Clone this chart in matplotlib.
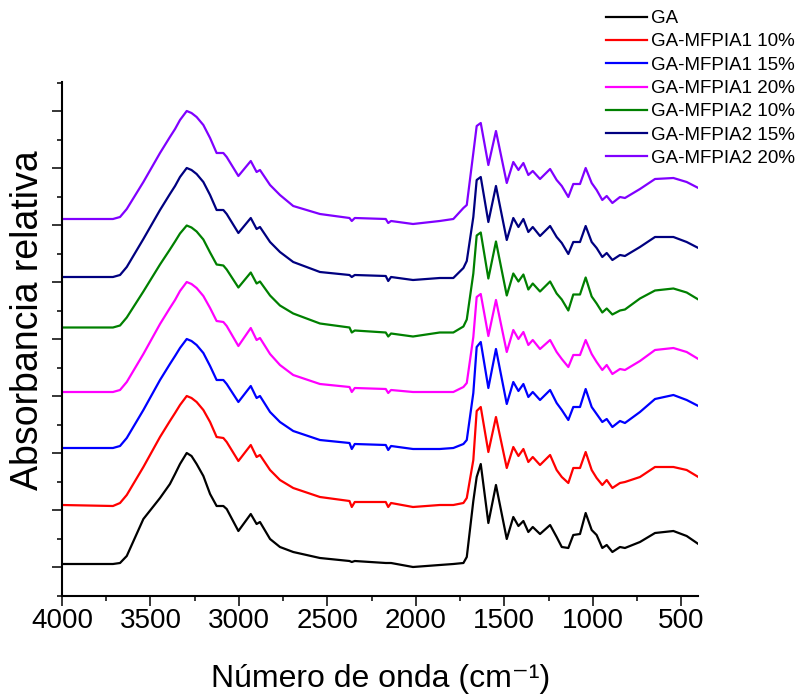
import numpy as np
import matplotlib
matplotlib.use("Agg")
import matplotlib.pyplot as plt
from matplotlib.ticker import MultipleLocator

plt.rcParams['font.family'] = ['Liberation Sans', 'DejaVu Sans']

# numero de onda (cm-1)
wavenumber = [4000, 3712, 3672, 3634, 3540, 3446, 3390, 3361, 3333, 3295, 3268, 3239, 3201, 3163,
              3126, 3088, 3069, 3003, 2933, 2900, 2881, 2824, 2768, 2693, 2542, 2375, 2362, 2345,
              2170, 2156, 2140, 2016, 1865,
              1788, 1731, 1712, 1675, 1656, 1633, 1590, 1547, 1486, 1449, 1420, 1392, 1364, 1339,
              1298, 1241, 1204, 1175, 1138, 1110, 1072, 1040, 1006, 978, 946, 921, 889, 846, 818,
              733, 648, 544, 469, 403]

# absorbancia relativa (u.a.) de cada muestra
ga = [0, 0, 1, 8, 45, 66, 80, 90, 100, 111, 108, 100, 88, 70, 58, 58, 55, 33, 50, 40, 42, 25, 17, 12,
      6, 3, 2, 3, 1, 1, 1, -3, -1,
      0, 1, 7, 63, 87, 100, 41, 79, 25, 47, 38, 43, 32, 37, 30, 39, 27, 17, 16, 29, 30, 51, 34, 29,
      16, 19, 12, 17, 16, 22, 31, 33, 28, 20]
m1_10 = [0, -1, 2, 10, 38, 68, 84, 92, 100, 109, 107, 103, 95, 83, 68, 67, 63, 44, 60, 48, 50, 35, 25,
         17, 8, 4, -2, 3, 3, -2, 2, -2, 0,
         0, 2, 7, 45, 94, 98, 53, 88, 37, 58, 49, 56, 43, 48, 40, 50, 35, 28, 22, 37, 37, 53, 35, 27,
         20, 25, 17, 22, 23, 28, 38, 38, 35, 28]
m1_15 = [0, 0, 2, 10, 38, 68, 84, 92, 100, 109, 107, 103, 95, 82, 68, 68, 64, 46, 62, 50, 52, 36, 26,
         17, 8, 5, -1, 4, 3, -2, 2, -1, -1,
         0, 4, 8, 55, 101, 106, 60, 99, 44, 66, 57, 64, 51, 56, 48, 58, 45, 38, 28, 41, 41, 59, 41, 34,
         26, 29, 21, 27, 25, 36, 49, 53, 48, 42]
m1_20 = [0, 0, 2, 10, 38, 68, 84, 92, 101, 110, 108, 104, 96, 84, 71, 70, 66, 46, 64, 52, 54, 38, 27,
         17, 8, 5, 0, 4, 3, -1, 2, 0, 0,
         0, 5, 9, 55, 95, 98, 56, 92, 40, 62, 53, 60, 47, 52, 43, 52, 40, 33, 25, 37, 37, 52, 38, 30,
         22, 27, 18, 23, 22, 31, 42, 44, 40, 33]
m2_10 = [0, 0, 2, 10, 36, 63, 78, 86, 94, 102, 100, 96, 88, 75, 63, 62, 58, 40, 55, 44, 46, 32, 22,
         14, 4, 0, -5, -3, -5, -9, -6, -9, -5,
         -5, 1, 8, 54, 92, 95, 49, 86, 32, 54, 46, 53, 38, 44, 36, 46, 34, 28, 17, 33, 33, 50, 31, 24,
         15, 19, 13, 17, 18, 29, 37, 39, 35, 28]
m2_15 = [0, 0, 2, 10, 38, 67, 83, 91, 100, 109, 107, 103, 95, 82, 67, 67, 63, 44, 59, 48, 50, 35, 25,
         15, 5, 2, 0, 2, 1, -4, 0, -3, -1,
         -1, 9, 16, 60, 97, 100, 55, 91, 37, 59, 50, 58, 45, 50, 41, 51, 40, 34, 23, 35, 35, 51, 35, 29,
         20, 24, 17, 22, 21, 30, 40, 40, 35, 29]
m2_20 = [0, 0, 2, 10, 37, 66, 82, 90, 99, 108, 106, 102, 94, 81, 66, 66, 62, 43, 58, 47, 49, 34, 24,
         13, 5, 1, -2, 1, 0, -4, -2, -5, -2,
         0, 11, 14, 66, 93, 96, 54, 88, 36, 57, 49, 56, 44, 48, 40, 50, 39, 33, 22, 35, 35, 51, 36, 29,
         19, 23, 16, 22, 21, 30, 40, 41, 37, 31]

labels = ['GA', 'GA-MFPIA1 10%', 'GA-MFPIA1 15%', 'GA-MFPIA1 20%',
          'GA-MFPIA2 10%', 'GA-MFPIA2 15%', 'GA-MFPIA2 20%']
series = [ga, m1_10, m1_15, m1_20, m2_10, m2_15, m2_20]
offsets = [3, 62, 119, 175, 239.5, 290, 348]
colors = ['#000000', '#ff0000', '#0000ff', '#ff00ff', '#008000', '#000080', '#8000ff']

fig = plt.figure(figsize=(7.96, 6.94), dpi=100)
ax = fig.add_axes([62/796, 1 - 595.5/694, 636/796, 513.5/694])

for y, off, c, lab in zip(series, offsets, colors, labels):
    ax.plot(wavenumber, np.array(y) + off, color=c, lw=1.6, label=lab)

ax.set_xlim(4000, 405)
ax.set_ylim(-28.5, 485)
ax.xaxis.set_major_locator(MultipleLocator(500))
ax.xaxis.set_minor_locator(MultipleLocator(250))
ax.yaxis.set_major_locator(MultipleLocator(57))
ax.yaxis.set_minor_locator(MultipleLocator(28.5))
ax.tick_params(which='major', direction='out', length=7, width=1.1, labelsize=20, pad=2)
ax.tick_params(which='minor', direction='out', length=3.6, width=1.1)
ax.tick_params(axis='y', which='both', labelleft=False)
for s in ['top', 'right']:
    ax.spines[s].set_visible(False)
for s in ['left', 'bottom']:
    ax.spines[s].set_linewidth(1.5)

fig.text(381/796, 1 - 687/694, 'Número de onda (cm⁻¹)', fontsize=23,
         ha='center', va='baseline')
fig.text(28/796, 1 - 320/694, 'Absorbancia relativa', fontsize=27,
         rotation=90, ha='center', va='center')

fig.legend(loc='upper left', bbox_to_anchor=(606/796, 1 - 10/694), frameon=False,
           fontsize=13.5, handlelength=2.2, handletextpad=0.2, labelspacing=0.33,
           borderpad=0, borderaxespad=0)

fig.savefig('out.png', dpi=100)
